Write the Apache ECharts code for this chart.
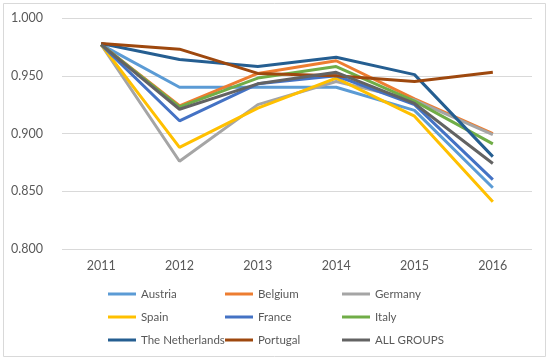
<!DOCTYPE html>
<html>
<head>
<meta charset="utf-8">
<script src="https://cdn.jsdelivr.net/npm/echarts@6/dist/echarts.min.js"></script>
<style>
html,body{margin:0;padding:0;background:#fff;}
#chart{width:550px;height:360px;}
</style>
</head>
<body>
<div id="chart"></div>
<script>
var years = ['2011','2012','2013','2014','2015','2016'];
var austria      = [0.977, 0.940, 0.940, 0.940, 0.920, 0.853];
var belgium      = [0.977, 0.924, 0.952, 0.963, 0.930, 0.900];
var germany      = [0.977, 0.876, 0.925, 0.945, 0.929, 0.899];
var spain        = [0.977, 0.888, 0.922, 0.948, 0.915, 0.841];
var france       = [0.977, 0.911, 0.943, 0.950, 0.925, 0.860];
var italy        = [0.977, 0.923, 0.948, 0.958, 0.928, 0.891];
var netherlands  = [0.978, 0.964, 0.958, 0.966, 0.951, 0.880];
var portugal     = [0.978, 0.973, 0.952, 0.950, 0.945, 0.953];
var allGroups    = [0.977, 0.921, 0.943, 0.953, 0.926, 0.874];

var names = ['Austria','Belgium','Germany','Spain','France','Italy','The Netherlands','Portugal','ALL GROUPS'];
var values = [austria, belgium, germany, spain, france, italy, netherlands, portugal, allGroups];
var colors = ['#5B9BD5','#ED7D31','#A5A5A5','#FFC000','#4472C4','#70AD47','#255E91','#9E480E','#636363'];

var font = 'Lato, Open Sans, sans-serif';
var series = names.map(function(n, i){
  return {
    name: n, type: 'line', data: values[i], showSymbol: false, symbol: 'none',
    lineStyle: {width: 3, color: colors[i]}, itemStyle: {color: colors[i]},
    emphasis: {disabled: true}, animation: false
  };
});

function legendCol(left, items){
  return {
    data: items, left: left, top: 282, orient: 'vertical',
    itemWidth: 28, itemHeight: 3, icon: 'rect', itemGap: 9,
    textStyle: {fontFamily: font, fontSize: 11.5, color: '#595959', lineHeight: 14},
    selectedMode: false
  };
}

var chart = echarts.init(document.getElementById('chart'));
chart.setOption({
  backgroundColor: '#fff',
  animation: false,
  color: colors,
  grid: {left: 62, right: 18, top: 18, bottom: 111},
  xAxis: {
    type: 'category', data: years, boundaryGap: true,
    axisLine: {show: false}, axisTick: {show: false},
    axisLabel: {fontFamily: font, fontSize: 12.5, color: '#595959', margin: 10}
  },
  yAxis: {
    type: 'value', min: 0.8, max: 1.0, interval: 0.05,
    axisLine: {show: false}, axisTick: {show: false},
    axisLabel: {fontFamily: font, fontSize: 12.5, color: '#595959', margin: 19,
      formatter: function(v){ return v.toFixed(3); }},
    splitLine: {lineStyle: {color: '#d9d9d9', width: 1}}
  },
  legend: [
    legendCol(103, ['Austria','Spain','The Netherlands']),
    legendCol(220, ['Belgium','France','Portugal']),
    legendCol(337, ['Germany','Italy','ALL GROUPS'])
  ],
  graphic: [{
    type: 'rect', shape: {x: 3.5, y: 3.5, width: 542, height: 353},
    style: {fill: 'none', stroke: '#d9d9d9', lineWidth: 1}, silent: true
  }],
  series: series
});
</script>
</body>
</html>
